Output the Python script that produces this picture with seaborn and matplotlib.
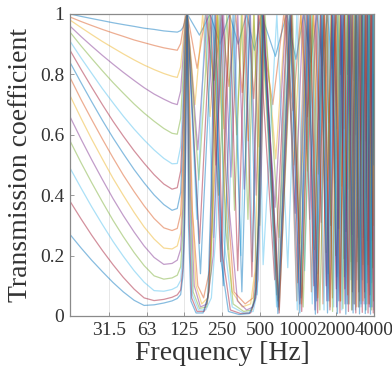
import matplotlib
matplotlib.use("Agg")
import matplotlib.pyplot as plt
from matplotlib.ticker import NullLocator
import pandas as pd
import seaborn as sns

# ---------------- data ----------------
F_LOW = [15.5, 19, 23, 28, 34, 41, 50, 60, 72, 86, 100, 110, 117, 122, 125.5, 128, 130, 132]

low_01 = [1.0, .992, .985, .978, .971, .965, .959, .953, .949, .944, .9415, .94, .945, .955, .97, .985, .995, 1.0]
low_02 = [.99, .975, .962, .949, .937, .926, .914, .905, .896, .888, .883, .88, .902, .948, .977, .992, .998, 1.0]
low_03 = [.98, .955, .932, .909, .888, .868, .848, .831, .816, .803, .794, .79, .825, .904, .957, .984, .996, 1.0]
low_04 = [.96, .925, .894, .863, .834, .807, .78, .756, .735, .718, .705, .70, .745, .854, .932, .975, .994, 1.0]
low_05 = [.94, .894, .853, .812, .773, .738, .702, .672, .645, .621, .605, .602, .654, .791, .899, .962, .99, 1.0]
low_06 = [.91, .854, .804, .753, .706, .662, .619, .583, .55, .522, .504, .505, .561, .718, .857, .944, .985, 1.0]
low_07 = [.88, .816, .758, .70, .645, .596, .547, .506, .468, .437, .42, .425, .48, .649, .813, .925, .98, 1.0]
low_08 = [.84, .772, .71, .648, .59, .538, .485, .441, .401, .369, .35, .356, .409, .58, .765, .902, .973, 1.0]
low_09 = [.79, .716, .651, .586, .524, .467, .412, .365, .323, .292, .283, .29, .338, .505, .706, .872, .965, 1.0]
low_10 = [.73, .654, .586, .52, .456, .40, .343, .295, .255, .225, .222, .232, .274, .43, .64, .834, .952, 1.0]
low_11 = [.66, .585, .518, .452, .389, .333, .278, .232, .194, .171, .174, .185, .221, .362, .572, .791, .938, 1.0]
low_12 = [.58, .507, .442, .378, .317, .263, .21, .167, .133, .122, .126, .135, .163, .281, .478, .722, .912, 1.0]
low_13 = [.49, .423, .362, .303, .247, .198, .15, .112, .084, .082, .088, .097, .118, .212, .387, .641, .877, 1.0]
low_14 = [.38, .321, .268, .217, .17, .128, .089, .06, .051, .055, .062, .07, .086, .158, .307, .556, .834, 1.0]
low_15 = [.27, .225, .185, .147, .111, .08, .052, .035, .037, .043, .05, .058, .071, .133, .266, .507, .804, 1.0]

hz_01 = [165, 200, 240, 285, 335, 390, 450, 510, 660, 810, 960, 1110, 1260, 1410, 1560, 1710, 1860, 2010, 2160, 2310, 2460, 2610, 2760, 2910, 3060, 3210, 3360, 3510, 3660, 3810, 3960]
tc_01 = [.93, 1, .9, 1, .9, 1, .88, 1, .86, 1, .85, 1, .84, 1, .83, 1, .82, 1, .8, 1, .8, 1, .78, 1, .78, 1, .77, 1, .76, 1, .75]

hz_02 = [158, 185, 215, 248, 282, 320, 360, 402, 445, 490, 630, 770, 910, 1050, 1190, 1330, 1470, 1610, 1750, 1890, 2030, 2170, 2310, 2450, 2590, 2730, 2870, 3010, 3150, 3290, 3430, 3570, 3710, 3850, 3990]
tc_02 = [.82, 1, .78, 1, .76, 1, .74, 1, .72, 1, .7, 1, .68, 1, .66, 1, .65, 1, .64, 1, .62, 1, .62, 1, .6, 1, .6, 1, .58, 1, .58, 1, .57, 1, .56]

hz_03 = [152, 175, 200, 228, 258, 290, 325, 362, 402, 445, 490, 535, 665, 795, 925, 1055, 1185, 1315, 1445, 1575, 1705, 1835, 1965, 2095, 2225, 2355, 2485, 2615, 2745, 2875, 3005, 3135, 3265, 3395, 3525, 3655, 3785, 3915, 4000]
tc_03 = [.7, 1, .66, 1, .62, 1, .6, 1, .58, 1, .56, 1, .52, 1, .5, 1, .48, 1, .47, 1, .45, 1, .44, 1, .43, 1, .42, 1, .41, 1, .4, 1, .4, 1, .39, 1, .38, 1, .6]

hz_04 = [160, 190, 222, 256, 293, 332, 374, 418, 465, 512, 657, 802, 947, 1092, 1237, 1382, 1527, 1672, 1817, 1962, 2107, 2252, 2397, 2542, 2687, 2832, 2977, 3122, 3267, 3412, 3557, 3702, 3847, 3992]
tc_04 = [.55, 1, .5, 1, .46, 1, .42, 1, .4, 1, .36, 1, .34, 1, .32, 1, .31, 1, .3, 1, .29, 1, .28, 1, .27, 1, .26, 1, .26, 1, .25, 1, .25, 1]

hz_05 = [163, 197, 234, 272, 313, 355, 400, 447, 496, 546, 706, 866, 1026, 1186, 1346, 1506, 1666, 1826, 1986, 2146, 2306, 2466, 2626, 2786, 2946, 3106, 3266, 3426, 3586, 3746, 3906, 4000]
tc_05 = [.45, 1, .4, 1, .35, 1, .32, 1, .3, 1, .26, 1, .24, 1, .22, 1, .21, 1, .2, 1, .19, 1, .18, 1, .18, 1, .17, 1, .17, 1, .16, .7]

hz_06 = [157, 184, 214, 245, 279, 314, 352, 392, 435, 480, 528, 678, 828, 978, 1128, 1278, 1428, 1578, 1728, 1878, 2028, 2178, 2328, 2478, 2628, 2778, 2928, 3078, 3228, 3378, 3528, 3678, 3828, 3978]
tc_06 = [.32, 1, .26, 1, .22, 1, .2, 1, .18, 1, .17, 1, .16, 1, .15, 1, .14, 1, .14, 1, .13, 1, .13, 1, .12, 1, .12, 1, .12, 1, .11, 1, .11, 1]

hz_07 = [165, 203, 243, 286, 332, 380, 430, 482, 652, 822, 992, 1162, 1332, 1502, 1672, 1842, 2012, 2182, 2352, 2522, 2692, 2862, 3032, 3202, 3372, 3542, 3712, 3882, 4000]
tc_07 = [.24, 1, .18, 1, .15, 1, .13, 1, .12, 1, .11, 1, .1, 1, .1, 1, .09, 1, .09, 1, .08, 1, .08, 1, .08, 1, .07, 1, .3]

hz_08 = [168, 210, 255, 305, 358, 413, 470, 530, 705, 880, 1055, 1230, 1405, 1580, 1755, 1930, 2105, 2280, 2455, 2630, 2805, 2980, 3155, 3330, 3505, 3680, 3855, 4000]
tc_08 = [.14, 1, .1, 1, .08, 1, .07, 1, .06, 1, .06, 1, .05, 1, .05, 1, .05, 1, .04, 1, .04, 1, .04, 1, .04, 1, .03, .8]

hz_09 = [145, 160, 178, 198, 220, 240, 268, 310, 380, 440, 475, 505, 525, 675, 825, 975, 1125, 1275, 1425, 1575, 1725, 1875, 2025, 2175, 2325, 2475, 2625, 2775, 2925, 3075, 3225, 3375, 3525, 3675, 3825, 3975]
tc_09 = [0.35, 0.1, 0.06, 0.15, 0.5, 1.0, 0.45, 0.08, 0.04, 0.06, 0.2, 0.6, 1.0, 0.07, 1.0, 0.05, 1.0, 0.08, 1.0, 0.04, 1.0, 0.06, 1.0, 0.05, 1.0, 0.07, 1.0, 0.04, 1.0, 0.05, 1.0, 0.06, 1.0, 0.04, 1.0, 0.05]

hz_10 = [142, 155, 172, 192, 210, 228, 262, 300, 360, 420, 455, 482, 505, 690, 875, 1060, 1245, 1430, 1615, 1800, 1985, 2170, 2355, 2540, 2725, 2910, 3095, 3280, 3465, 3650, 3835, 4000]
tc_10 = [0.4, 0.1, 0.04, 0.06, 0.3, 1.0, 0.4, 0.08, 0.03, 0.04, 0.15, 0.6, 1.0, 0.05, 1.0, 0.04, 1.0, 0.06, 1.0, 0.03, 1.0, 0.05, 1.0, 0.04, 1.0, 0.03, 1.0, 0.05, 1.0, 0.04, 1.0, 0.3]

hz_11 = [140, 150, 168, 190, 212, 250, 285, 330, 390, 440, 480, 512, 535, 700, 865, 1030, 1195, 1360, 1525, 1690, 1855, 2020, 2185, 2350, 2515, 2680, 2845, 3010, 3175, 3340, 3505, 3670, 3835, 4000]
tc_11 = [0.4, 0.1, 0.03, 0.04, 0.2, 1.0, 0.35, 0.05, 0.02, 0.03, 0.12, 0.5, 1.0, 0.03, 1.0, 0.04, 1.0, 0.02, 1.0, 0.05, 1.0, 0.03, 1.0, 0.04, 1.0, 0.02, 1.0, 0.03, 1.0, 0.04, 1.0, 0.03, 1.0, 0.02]

hz_12 = [138, 147, 165, 188, 204, 214, 232, 265, 305, 370, 430, 465, 492, 512, 707, 902, 1097, 1292, 1487, 1682, 1877, 2072, 2267, 2462, 2657, 2852, 3047, 3242, 3437, 3632, 3827, 4000]
tc_12 = [0.4, 0.08, 0.025, 0.03, 0.15, 0.6, 1.0, 0.3, 0.04, 0.015, 0.02, 0.1, 0.45, 1.0, 0.02, 1.0, 0.03, 1.0, 0.02, 1.0, 0.015, 1.0, 0.025, 1.0, 0.02, 1.0, 0.03, 1.0, 0.02, 1.0, 0.02, 1.0]

hz_13 = [137, 145, 162, 185, 205, 225, 240, 258, 300, 370, 440, 475, 500, 520, 675, 830, 985, 1140, 1295, 1450, 1605, 1760, 1915, 2070, 2225, 2380, 2535, 2690, 2845, 3000, 3155, 3310, 3465, 3620, 3775, 3930]
tc_13 = [0.4, 0.07, 0.02, 0.02, 0.06, 0.3, 1.0, 0.25, 0.03, 0.01, 0.015, 0.08, 0.4, 1.0, 0.03, 1.0, 0.02, 1.0, 0.04, 1.0, 0.02, 1.0, 0.03, 1.0, 0.02, 1.0, 0.04, 1.0, 0.02, 1.0, 0.03, 1.0, 0.02, 1.0, 0.03, 1.0]

hz_14 = [136, 143, 158, 180, 196, 206, 222, 252, 290, 350, 420, 460, 492, 528, 708, 888, 1068, 1248, 1428, 1608, 1788, 1968, 2148, 2328, 2508, 2688, 2868, 3048, 3228, 3408, 3588, 3768, 3948]
tc_14 = [0.35, 0.06, 0.015, 0.015, 0.08, 0.4, 1.0, 0.2, 0.02, 0.008, 0.01, 0.06, 0.35, 1.0, 0.01, 1.0, 0.015, 1.0, 0.01, 1.0, 0.02, 1.0, 0.01, 1.0, 0.015, 1.0, 0.01, 1.0, 0.012, 1.0, 0.01, 1.0, 0.01]

hz_15 = [135, 141, 155, 176, 192, 202, 218, 245, 280, 340, 410, 452, 485, 521, 691, 861, 1031, 1201, 1371, 1541, 1711, 1881, 2051, 2221, 2391, 2561, 2731, 2901, 3071, 3241, 3411, 3581, 3751, 3921, 4000]
tc_15 = [0.3, 0.05, 0.01, 0.01, 0.06, 0.35, 1.0, 0.18, 0.015, 0.005, 0.008, 0.05, 0.3, 1.0, 0.008, 1.0, 0.01, 1.0, 0.006, 1.0, 0.01, 1.0, 0.008, 1.0, 0.006, 1.0, 0.01, 1.0, 0.007, 1.0, 0.008, 1.0, 0.006, 1.0, 0.5]

X_TICKS = [31.5, 63, 125, 250, 500, 1000, 2000, 4000]
X_TICK_LABELS = ["31.5", "63", "125", "250", "500", "1000", "2000", "4000"]
Y_TICKS = [0, 0.2, 0.4, 0.6, 0.8, 1]
Y_TICK_LABELS = ["0", "0.2", "0.4", "0.6", "0.8", "1"]

# ---------------- build long table ----------------
LOWS = [low_01, low_02, low_03, low_04, low_05, low_06, low_07, low_08,
        low_09, low_10, low_11, low_12, low_13, low_14, low_15]
HZS = [hz_01, hz_02, hz_03, hz_04, hz_05, hz_06, hz_07, hz_08,
       hz_09, hz_10, hz_11, hz_12, hz_13, hz_14, hz_15]
TCS = [tc_01, tc_02, tc_03, tc_04, tc_05, tc_06, tc_07, tc_08,
       tc_09, tc_10, tc_11, tc_12, tc_13, tc_14, tc_15]

frames = []
for i, (lo, hz, tc) in enumerate(zip(LOWS, HZS, TCS)):
    assert len(hz) == len(tc), (i + 1, len(hz), len(tc))
    assert len(lo) == len(F_LOW), (i + 1, len(lo))
    frames.append(pd.DataFrame({"freq": F_LOW + hz, "T": lo + tc,
                                "curve": f"c{i + 1:02d}"}))
df = pd.concat(frames, ignore_index=True)

matlab = ["#0072BD", "#D95319", "#EDB120", "#7E2F8E", "#77AC30", "#4DBEEE", "#A2142F"]
palette = {f"c{i + 1:02d}": matlab[i % 7] for i in range(15)}

# ---------------- figure ----------------
sns.set_style("ticks")
plt.rcParams["font.family"] = ["Liberation Serif", "DejaVu Serif"]

fig = plt.figure(figsize=(3.92, 3.80), dpi=100)
ax = fig.add_axes([70 / 392, 1 - 316 / 380, (374 - 70) / 392, (316 - 14) / 380])

sns.lineplot(data=df, x="freq", y="T", hue="curve", palette=palette,
             estimator=None, sort=False, legend=False,
             linewidth=0.9, alpha=0.47, ax=ax)

ax.set_xscale("log")
ax.set_xlim(15.5, 4000)
ax.set_ylim(0, 1)
ax.set_xticks(X_TICKS)
ax.set_xticklabels(X_TICK_LABELS)
ax.xaxis.set_minor_locator(NullLocator())
ax.set_yticks(Y_TICKS)
ax.set_yticklabels(Y_TICK_LABELS)

ax.grid(axis="x", color="#e2e2e2", linewidth=0.6)
ax.set_axisbelow(True)
for s in ax.spines.values():
    s.set_color("#8a8a8a")
    s.set_linewidth(0.9)
ax.tick_params(direction="in", length=3, width=0.6, color="#8a8a8a",
               labelsize=14, labelcolor="#333333", pad=4)
ax.set_xlabel("Frequency [Hz]", fontsize=20, color="#333333", labelpad=2)
ax.set_ylabel("Transmission coefficient", fontsize=20, color="#333333", labelpad=5)

fig.savefig("out.png", dpi=100)
